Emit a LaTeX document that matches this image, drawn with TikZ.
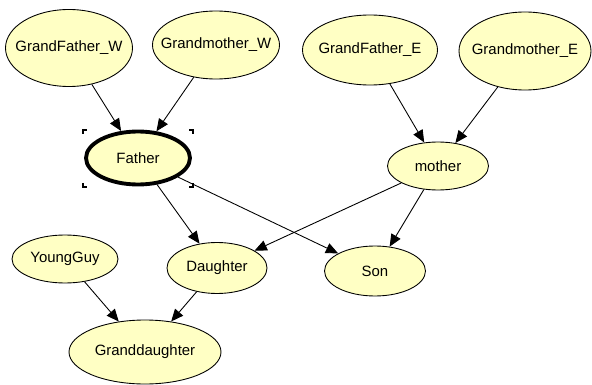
\documentclass[tikz,border=0pt]{standalone}
\usepackage{fontspec}
\setmainfont{Liberation Sans}
\usetikzlibrary{shapes.geometric,arrows.meta}

\definecolor{nodefill}{RGB}{255,255,196}
% zero-width label so the ellipse keeps its given size
\newcommand{\nname}[1]{\makebox[0pt]{#1}}

\tikzset{
  chance/.style={ellipse, draw, fill=nodefill, line width=0.5pt, inner sep=0pt,
    font=\fontsize{8.5}{10}\selectfont},
  sz/.style 2 args={minimum width=#1*0.02cm, minimum height=#2*0.02cm},
  link/.style={-{Triangle[length=7pt,width=6pt]}, line width=0.5pt},
  selmark/.style={line width=0.6pt}
}

\begin{document}
\begin{tikzpicture}[x=0.02cm,y=-0.02cm]
  \useasboundingbox (0,0) rectangle (592,385);
  \node[chance, sz={127}{77}] (gfw) at (69,48) {\nname{GrandFather\_W}};
  \node[chance, sz={127}{68}] (gmw) at (216,45) {\nname{Grandmother\_W}};
  \node[chance, sz={135}{70}] (gfe) at (370,50) {\nname{GrandFather\_E}};
  \node[chance, sz={132}{78}] (gme) at (525,51) {\nname{Grandmother\_E}};
  \node[chance, sz={104}{53}, line width=2.2pt] (father) at (138,158) {\nname{Father}};
  \node[chance, sz={101}{48}] (mother) at (438,166) {\nname{mother}};
  \node[chance, sz={106}{48}] (young) at (65,259) {\nname{YoungGuy}};
  \node[chance, sz={100}{51}] (daughter) at (217,268) {\nname{Daughter}};
  \node[chance, sz={101}{50}] (son) at (375,271) {\nname{Son}};
  \node[chance, sz={152}{64}] (gdaughter) at (145,352) {\nname{Granddaughter}};

  \draw[link] (gfw) -- (father);
  \draw[link] (gmw) -- (father);
  \draw[link] (gfe) -- (mother);
  \draw[link] (gme) -- (mother);
  \draw[link] (father) -- (daughter);
  \draw[link] (father) -- (son);
  \draw[link] (mother) -- (daughter);
  \draw[link] (mother) -- (son);
  \draw[link] (young) -- (gdaughter);
  \draw[link] (daughter) -- (gdaughter);

  % selection marks round Father
  \draw[selmark] (83,134)--(83,130)--(87,130);
  \draw[selmark] (189,130)--(193,130)--(193,134);
  \draw[selmark] (83,183)--(83,187)--(87,187);
  \draw[selmark] (189,187)--(193,187)--(193,183);
\end{tikzpicture}
\end{document}
